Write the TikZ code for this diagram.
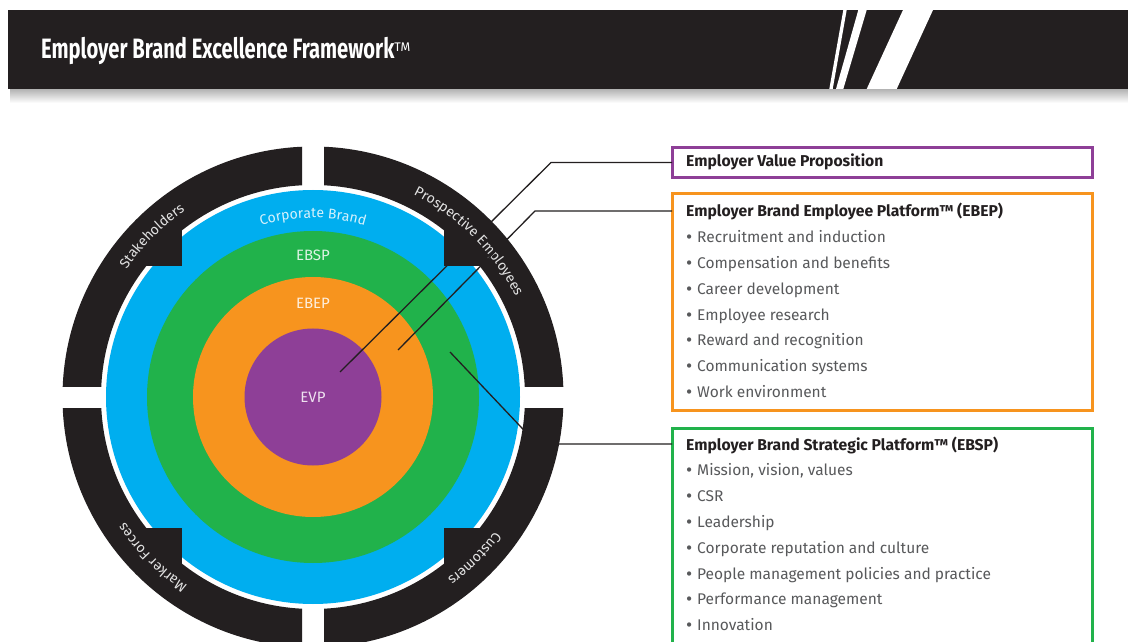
\documentclass[tikz,border=0pt]{standalone}
\usepackage{fontspec}
\setmainfont{Fira Sans}
\newfontfamily\titlefont[FakeStretch=0.72]{Fira Sans}
\usetikzlibrary{decorations.text}
\definecolor{ink}{HTML}{231F20}
\definecolor{cblue}{HTML}{00AEEF}
\definecolor{cgreen}{HTML}{21B24B}
\definecolor{corange}{HTML}{F7941E}
\definecolor{cpurple}{HTML}{8E3F97}
\definecolor{itemgray}{HTML}{58595B}
\definecolor{ringtxt}{HTML}{E2E2E2}
\definecolor{corptxt}{HTML}{D6F1FC}
\newcommand\bul{\makebox[11pt][l]{\fontsize{19}{19}\selectfont\raisebox{-1pt}{\textbullet}}}
\begin{document}
\begin{tikzpicture}[x=1pt,y=1pt,
  box/.style={draw, line width=3pt, outer sep=0pt, inner sep=0pt, anchor=north west, minimum width=420.5pt},
  conn/.style={draw=ink, line width=1.3pt},
  head/.style={anchor=base west, inner sep=0pt, text=ink, font=\bfseries\fontsize{15.7}{16}\selectfont},
  item/.style={anchor=base west, inner sep=0pt, text=itemgray, font=\fontsize{15.5}{16}\selectfont},
  lbl/.style={text=white, text opacity=0.85, inner sep=0pt, font=\fontsize{15}{15}\selectfont},
  stripe/.style={fill=white},
]
\clip (0,0) rectangle (1128,641);
\fill[white] (0,0) rectangle (1128,641);

% header
\shade[top color=black!30, bottom color=white] (10,538) rectangle (1128,552);
\fill[ink] (8,552) rectangle (1128,631);
\fill[stripe] (843.3,631) -- (846.7,631) -- (832.7,552) -- (829.3,552) -- cycle;
\fill[stripe] (858.3,631) -- (866.7,631) -- (843.3,552) -- (836,552) -- cycle;
\fill[stripe] (903,631) -- (933,631) -- (896.7,552) -- (866.7,552) -- cycle;
\node[anchor=base west, inner sep=0pt, text=white, font=\titlefont\bfseries\fontsize{28}{28}\selectfont] (title) at (41,582) {Employer Brand Excellence Framework\raisebox{7pt}{\normalfont\fontsize{12.5}{12}\selectfont TM}};

% concentric circles
\coordinate (C) at (313,244);
\fill[cblue] (C) circle[radius=207];
\fill[cgreen] (C) circle[radius=166];
\fill[corange] (C) circle[radius=120];
\fill[cpurple] (C) circle[radius=68.5];

% outer ring quadrants with inward tabs
\foreach \sx/\sy in {1/1,-1/1,-1/-1,1/-1}{
  \begin{scope}
    \clip ({313+\sx*11},{244+\sy*11}) rectangle ({313+\sx*260},{244+\sy*260});
    \fill[ink, even odd rule] (C) circle[radius=250.5] (C) circle[radius=212];
    \fill[ink] ({313+\sx*131},{244+\sy*131}) rectangle ({313+\sx*172},{244+\sy*172});
  \end{scope}
}

% ring texts
\path[decorate, decoration={text along path, text align=center, text color=ringtxt, text={|\fontsize{14}{14}\selectfont|Stakeholders}}] ([shift={(175:226)}]C) arc[start angle=175, end angle=95, radius=226];
\path[decorate, decoration={text along path, text align=center, text color=ringtxt, text={|\fontsize{14}{14}\selectfont|Prospective Employees}}] ([shift={(85:226)}]C) arc[start angle=85, end angle=5, radius=226];
\path[decorate, decoration={text along path, text align=center, text color=ringtxt, text={|\fontsize{14}{14}\selectfont|Customers}}] ([shift={(-5:226)}]C) arc[start angle=-5, end angle=-85, radius=226];
\path[decorate, decoration={text along path, text align=center, text color=ringtxt, text={|\fontsize{14}{14}\selectfont|Marker Forces}}] ([shift={(265:226)}]C) arc[start angle=265, end angle=185, radius=226];
\path[decorate, decoration={text along path, text align=center, text color=corptxt, text={|\fontsize{14}{14}\selectfont|Corporate Brand}}] ([shift={(130:179)}]C) arc[start angle=130, end angle=50, radius=179];

% inner labels
\node[lbl] (ebsp) at (313,386) {EBSP};
\node[lbl] (ebep) at (313,338) {EBEP};
\node[lbl] (evp) at (313,244) {EVP};

% boxes
\node[box, draw=cpurple, minimum height=30] (evpbox) at (672,493.5) {};
\node[box, draw=corange, minimum height=216.5] (ebepbox) at (672,447) {};
\node[box, draw=cgreen, minimum height=240] (ebspbox) at (672,212.5) {};

\node[head] (evph) at (686,474) {Employer Value Proposition};
\node[head] (ebeph) at (686,424) {Employer Brand Employee Platform™ (EBEP)};
\foreach \t [count=\i] in {Recruitment and induction, Compensation and benefits, Career development, Employee research, Reward and recognition, Communication systems, Work environment}
  \node[item] (ebepi\i) at (686,{424-25.8*\i}) {\bul\t};
\node[head] (ebsph) at (686,191) {Employer Brand Strategic Platform™ (EBSP)};
\foreach \t [count=\i] in {{Mission, vision, values}, CSR, Leadership, Corporate reputation and culture, People management policies and practice, Performance management, Innovation}
  \node[item] (ebspi\i) at (686,{191-25.8*\i}) {\bul\t};

% connectors
\coordinate (evpdot) at (340,269);
\coordinate (b1) at (551,478.5);
\draw[conn] (evpbox.west) -- (b1) -- (evpdot);
\coordinate (ebepdot) at (398,291);
\coordinate (b2) at (535,430);
\draw[conn] (ebepbox.west |- b2) -- (b2) -- (ebepdot);
\coordinate (ebspdot) at (450,289);
\coordinate (b3) at (537,197);
\draw[conn] (ebspbox.west |- b3) -- (b3) -- (ebspdot);
\end{tikzpicture}
\end{document}
